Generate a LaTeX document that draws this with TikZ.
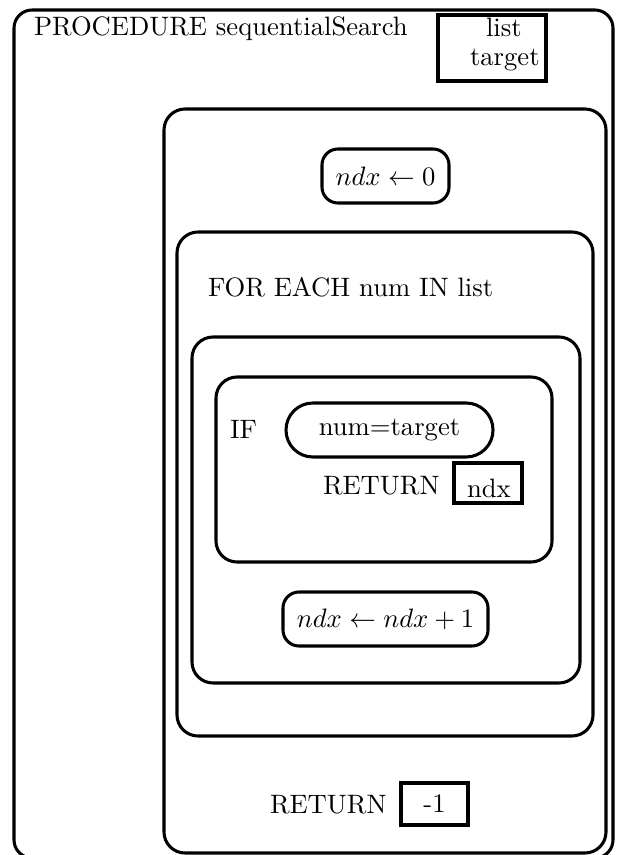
\documentclass[tikz,border=0pt]{standalone}
\usepackage{fontspec}
\newlength\pxl
\setlength\pxl{0.3756pt}
\begin{document}
\begin{tikzpicture}[x=0.3756pt,y=-0.3756pt,
  frame/.style={draw,line width=1.15pt,inner sep=0pt,outer sep=0pt,anchor=north west},
  bigbox/.style={frame,rounded corners=7.9pt},
  smallbox/.style={frame,rounded corners=6pt},
  capsule/.style={frame,rounded corners=10.1pt},
  sqbox/.style={frame},
  lbl/.style={anchor=base west,inner sep=0pt,outer sep=0pt}]
\clip (0,0) rectangle (619,855);
\node[bigbox,rounded corners=6.8pt,minimum width=599\pxl,minimum height=848\pxl] (proc) at (14,10) {};
\node[lbl] (ptitle) at (34,36) {PROCEDURE sequentialSearch};
\node[sqbox,minimum width=108\pxl,minimum height=66\pxl] (params) at (438,15) {};
\node[lbl] (plist) at (486,37) {list};
\node[lbl] (ptarget) at (470,66) {target};
\node[bigbox,minimum width=442\pxl,minimum height=744\pxl] (body) at (164,109) {};
\node[smallbox,minimum width=127\pxl,minimum height=54\pxl] (init) at (322,149) {$ndx \leftarrow 0$};
\node[bigbox,minimum width=416\pxl,minimum height=504\pxl] (loop) at (177,232) {};
\node[lbl] (fortext) at (208,297) {FOR EACH num IN list};
\node[bigbox,minimum width=388\pxl,minimum height=346\pxl] (loopbody) at (192,337) {};
\node[bigbox,minimum width=336\pxl,minimum height=185\pxl] (ifbox) at (216,377) {};
\node[lbl] (iftext) at (230,439) {IF};
\node[capsule,minimum width=207\pxl,minimum height=54\pxl] (cond) at (286,403) {num=target};
\node[lbl] (ret1) at (323,494) {RETURN};
\node[sqbox,minimum width=68\pxl,minimum height=40\pxl] (retval) at (454,463) {};
\node[lbl] (retvaltext) at (467,497) {ndx};
\node[smallbox,minimum width=205\pxl,minimum height=54\pxl] (incr) at (283,592) {$ndx \leftarrow ndx+1$};
\node[lbl] (ret2) at (270,813) {RETURN};
\node[sqbox,minimum width=67\pxl,minimum height=42\pxl] (retneg) at (401,783) {-1};
\end{tikzpicture}
\end{document}
